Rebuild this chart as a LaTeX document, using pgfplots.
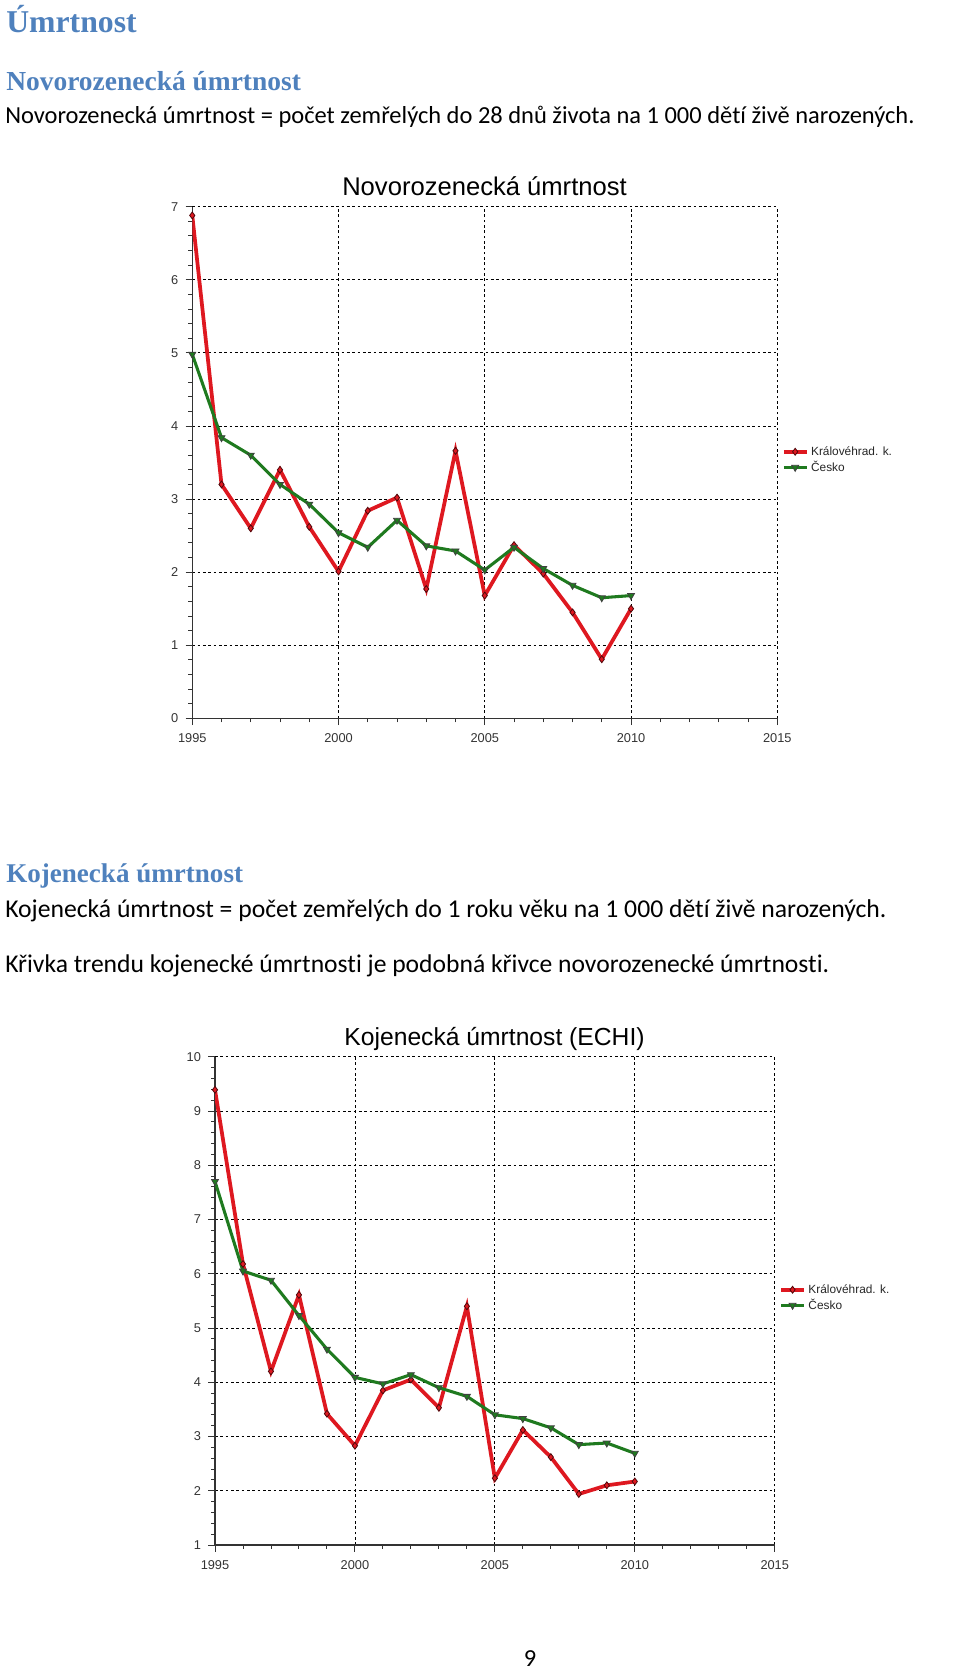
\documentclass[border=0pt]{standalone}
\usepackage{fontspec}
\setmainfont{Carlito}[Ligatures=NoCommon]
\newfontfamily\headfont{Liberation Serif}
\newfontfamily\arial{Liberation Sans}
\usepackage{pgfplots}
\pgfplotsset{compat=1.18}
\definecolor{headblue}{RGB}{79,129,189}
\definecolor{lred}{RGB}{222,24,32}
\definecolor{lgreen}{RGB}{31,122,31}
\pgfplotsset{
  mychart/.style={
    scale only axis, anchor=south west,
    xmin=1995, xmax=2015,
    axis x line*=bottom, axis y line*=left,
    axis line style={-, line width=1pt, black!80},
    xtick={1995,2000,2005,2010,2015}, minor xtick={1996,...,2014},
    minor y tick num=4,
    tick align=outside, major tick length=5pt, minor tick length=3pt,
    tick style={black!80, line width=0.7pt},
    grid=major,
    major grid style={black, line width=0.6pt, dash pattern=on 2pt off 2pt},
    ticklabel style={font=\arial\fontsize{9.6}{11}\selectfont, text=black!80},
    /pgf/number format/assume math mode=true,
    x tick label style={/pgf/number format/1000 sep={}},
    xticklabel shift=3pt, yticklabel shift=2pt,
    legend style={draw=none, fill=none, anchor=west, font=\arial\fontsize{8.9}{10}\selectfont, text=black!85, row sep=-1pt, inner sep=0pt, cells={anchor=west}},
    legend cell align=left,
  },
  kh/.style={lred, line width=2.8pt, mark=diamond*, mark size=2.6pt, mark options={fill=lred, draw=black!65!lred, line width=0.6pt}},
  cz/.style={lgreen, line width=2.3pt, mark=triangle*, mark size=3pt, mark options={rotate=180, fill=lgreen, draw=black!75, line width=0.6pt}},
}
\begin{document}
\begin{tikzpicture}
\useasboundingbox (0,0) rectangle (720pt,1253.25pt);
% page text
\node[anchor=base west, inner sep=0, text=headblue, font=\headfont\bfseries\fontsize{23.8}{28}\selectfont] at (4.5pt,1228.7pt) {Úmrtnost};
\node[anchor=base west, inner sep=0, text=headblue, font=\headfont\bfseries\fontsize{20.6}{24}\selectfont] at (4.5pt,1185pt) {Novorozenecká úmrtnost};
\node[anchor=base west, inner sep=0, font=\fontsize{18.35}{22}\selectfont] at (3.75pt,1160.25pt) {Novorozenecká úmrtnost = počet zemřelých do 28 dnů života na 1 000 dětí živě narozených.};
\node[anchor=base west, inner sep=0, text=headblue, font=\headfont\bfseries\fontsize{20.3}{24}\selectfont] at (4.5pt,591pt) {Kojenecká úmrtnost};
\node[anchor=base west, inner sep=0, font=\fontsize{19.25}{23}\selectfont] at (3.75pt,564.75pt) {Kojenecká úmrtnost = počet zemřelých do 1 roku věku na 1 000 dětí živě narozených.};
\node[anchor=base west, inner sep=0, font=\fontsize{19.2}{23}\selectfont] at (3.75pt,523.5pt) {Křivka trendu kojenecké úmrtnosti je podobná křivce novorozenecké úmrtnosti.};
\node[anchor=base, inner sep=0, font=\fontsize{18.35}{22}\selectfont] at (397.5pt,3pt) {9};
% chart titles
\node[anchor=base, inner sep=0, font=\arial\fontsize{19.2}{22}\selectfont] at (363.4pt,1106.25pt) {Novorozenecká úmrtnost};
\node[anchor=base, inner sep=0, font=\arial\fontsize{18.5}{22}\selectfont] at (370.9pt,468.75pt) {Kojenecká úmrtnost (ECHI)};
% chart 1
\begin{axis}[mychart, at={(144.2pt,714.45pt)}, width=438.75pt, height=383.8pt,
  ymin=0, ymax=7, ytick={0,1,...,7},
  legend style={at={(1.0075,0.505)}}]
\addplot[kh] coordinates {
(1995,6.88) (1996,3.20) (1997,2.60) (1998,3.40) (1999,2.62) (2000,2.01)
(2001,2.84) (2002,3.02) (2003,1.77) (2004,3.66) (2005,1.68) (2006,2.37)
(2007,1.98) (2008,1.45) (2009,0.81) (2010,1.50)};
\addlegendentry{Královéhrad. k.}
\addplot[cz] coordinates {
(1995,4.98) (1996,3.84) (1997,3.60) (1998,3.20) (1999,2.93) (2000,2.54)
(2001,2.34) (2002,2.71) (2003,2.36) (2004,2.29) (2005,2.03) (2006,2.34)
(2007,2.05) (2008,1.82) (2009,1.65) (2010,1.68)};
\addlegendentry{Česko}
\end{axis}
% chart 2
\begin{axis}[mychart, at={(161.25pt,94.5pt)}, width=419.8pt, height=366.2pt,
  ymin=1, ymax=10, ytick={1,2,...,10},
  legend style={at={(1.0077,0.506)}}]
\addplot[kh] coordinates {
(1995,9.39) (1996,6.18) (1997,4.20) (1998,5.61) (1999,3.42) (2000,2.83)
(2001,3.85) (2002,4.05) (2003,3.53) (2004,5.40) (2005,2.23) (2006,3.12)
(2007,2.62) (2008,1.94) (2009,2.10) (2010,2.17)};
\addlegendentry{Královéhrad. k.}
\addplot[cz] coordinates {
(1995,7.70) (1996,6.05) (1997,5.88) (1998,5.23) (1999,4.61) (2000,4.09)
(2001,3.97) (2002,4.14) (2003,3.90) (2004,3.74) (2005,3.40) (2006,3.33)
(2007,3.16) (2008,2.85) (2009,2.88) (2010,2.69)};
\addlegendentry{Česko}
\end{axis}
\end{tikzpicture}
\end{document}
